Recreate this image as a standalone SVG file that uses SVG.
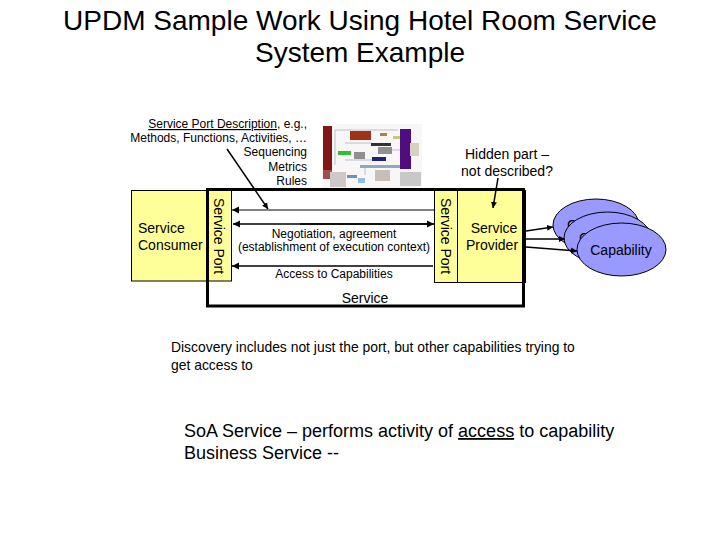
<svg xmlns="http://www.w3.org/2000/svg" width="720" height="540" viewBox="0 0 720 540">
<defs>
<marker id="ah" markerUnits="userSpaceOnUse" markerWidth="8" markerHeight="8" refX="7" refY="4" orient="auto"><path d="M0 0.5L7 4L0 7.5z" fill="#000"/></marker>
<marker id="ahs" markerUnits="userSpaceOnUse" markerWidth="7" markerHeight="7" refX="6" refY="3.5" orient="auto"><path d="M0 0.5L6 3.5L0 6.5z" fill="#000"/></marker>
<filter id="soft" x="0" y="0" width="1" height="1"><feGaussianBlur stdDeviation="0.6"/></filter>
</defs>
<style>
text{font-family:"Liberation Sans",Arial,sans-serif;fill:#000}
.box{fill:#ffff99;stroke:#000;stroke-width:1}
.cap{fill:#9999ff;stroke:#000;stroke-width:1}
.s{font-size:14px}
.m{font-size:12px}
.c{stroke:#000;fill:none}
</style>
<text x="360" y="30" text-anchor="middle" font-size="28">UPDM Sample Work Using Hotel Room Service</text>
<text x="360" y="62" text-anchor="middle" font-size="28">System Example</text>

<g id="description" class="m" text-anchor="end">
<text x="307" y="128"><tspan text-decoration="underline">Service Port Description</tspan>, e.g.,</text>
<text x="307" y="142">Methods, Functions, Activities, …</text>
<text x="307" y="156">Sequencing</text>
<text x="307" y="171">Metrics</text>
<text x="307" y="185">Rules</text>
</g>

<g id="thumbnail" filter="url(#soft)">
<rect x="322" y="124" width="100" height="64" fill="#f8f6f6"/>
<path d="M335 130H398M335 130V165M345 143H372M392 150H400M345 160H372M365 165V175" stroke="#b8c0d0" stroke-width="1" fill="none"/>
<rect x="323" y="126" width="9" height="44" fill="#801818"/>
<rect x="323" y="170" width="9" height="9" fill="#a05050"/>
<rect x="350" y="131" width="21" height="9" fill="#a03018"/>
<rect x="380" y="133" width="7" height="3" fill="#b08040"/>
<rect x="393" y="136" width="7" height="3" fill="#c8c870"/>
<rect x="371" y="143" width="20" height="3" fill="#303030"/>
<rect x="338" y="151" width="13" height="4" fill="#30c030"/>
<rect x="354" y="152" width="11" height="7" fill="#909090"/>
<rect x="378" y="147" width="14" height="7" fill="#909090"/>
<rect x="372" y="157" width="14" height="4" fill="#202070"/>
<rect x="400" y="129" width="11" height="40" fill="#501080"/>
<rect x="410" y="143" width="9" height="13" fill="#d8d0c0"/>
<rect x="360" y="165" width="40" height="3" fill="#90a8c0"/>
<rect x="330" y="172" width="16" height="15" fill="#d0c8c8"/>
<rect x="347" y="175" width="10" height="3" fill="#7090b0"/>
<rect x="358" y="178" width="7" height="5" fill="#90c0e0"/>
<rect x="375" y="170" width="15" height="11" fill="#c8c0b8"/>
<rect x="400" y="172" width="21" height="14" fill="#c8c8c8"/>
</g>

<g id="hidden-note" text-anchor="middle">
<text x="507" y="159" class="s">Hidden part –</text>
<text x="507" y="176" class="s">not described?</text>
</g>

<g id="service-consumer">
<rect class="box" x="131.500" y="190.500" width="75" height="90.500"/>
<text x="138" y="233" class="s">Service</text>
<text x="138" y="250" class="s">Consumer</text>
</g>
<g id="port-left">
<rect class="box" x="206.500" y="190.500" width="25" height="90.500"/>
<text transform="translate(214,236) rotate(90)" text-anchor="middle" class="s">Service Port</text>
</g>
<g id="port-right">
<rect class="box" x="434.500" y="190.500" width="23" height="92"/>
<text transform="translate(441,236) rotate(90)" text-anchor="middle" class="s">Service Port</text>
</g>
<g id="service-provider">
<rect class="box" x="457.500" y="190.500" width="68" height="92"/>
<text x="494" y="233" text-anchor="middle" class="s">Service</text>
<text x="492" y="250" text-anchor="middle" class="s">Provider</text>
</g>

<g id="service">
<rect x="207.500" y="189.500" width="316" height="116.500" fill="none" stroke="#000" stroke-width="3"/>
<text x="365" y="303" text-anchor="middle" class="s">Service</text>
</g>

<g id="capability-1"><ellipse class="cap" cx="596" cy="225" rx="43" ry="26"/><text x="567" y="230" font-size="14">C</text></g>
<g id="capability-2"><ellipse class="cap" cx="607.500" cy="238" rx="43.500" ry="26"/><text x="579" y="243" font-size="14">C</text></g>
<g id="capability-3"><ellipse class="cap" cx="621.500" cy="249.500" rx="44.500" ry="26.500"/><text x="621" y="255" text-anchor="middle" font-size="14">Capability</text></g>

<g id="labels">
<text x="334" y="238" text-anchor="middle" class="m">Negotiation, agreement</text>
<text x="334" y="251" text-anchor="middle" class="m">(establishment of execution context)</text>
<text x="334" y="278" text-anchor="middle" class="m">Access to Capabilities</text>
<text x="171" y="352" style="font-size:13.900px">Discovery includes not just the port, but other capabilities trying to</text>
<text x="171" y="370" style="font-size:13.900px">get access to</text>
<text x="184" y="437" font-size="18">SoA Service – performs activity of <tspan text-decoration="underline">access</tspan> to capability</text>
<text x="184" y="459" font-size="18">Business Service --</text>
</g>

<g id="connectors">
<line class="c" x1="434" y1="210" x2="232" y2="210" marker-end="url(#ah)"/>
<path class="c" stroke-width="1.500" d="M433 224H233" marker-end="url(#ah)"/>
<path class="c" stroke-width="1.500" d="M300 224H434" marker-end="url(#ah)"/>
<line class="c" stroke-width="1.500" x1="433" y1="266" x2="232" y2="266" marker-end="url(#ah)"/>
<line class="c" stroke-width="1.500" x1="227" y1="149" x2="268" y2="209" marker-end="url(#ahs)"/>
<line class="c" stroke-width="1.500" x1="498" y1="178" x2="493" y2="208" marker-end="url(#ahs)"/>
<line class="c" stroke-width="1.500" x1="526" y1="231" x2="553" y2="227" marker-end="url(#ahs)"/>
<line class="c" stroke-width="1.500" x1="526" y1="239" x2="565" y2="239" marker-end="url(#ahs)"/>
<line class="c" stroke-width="1.500" x1="526" y1="247" x2="577" y2="251" marker-end="url(#ahs)"/>
</g>
</svg>
